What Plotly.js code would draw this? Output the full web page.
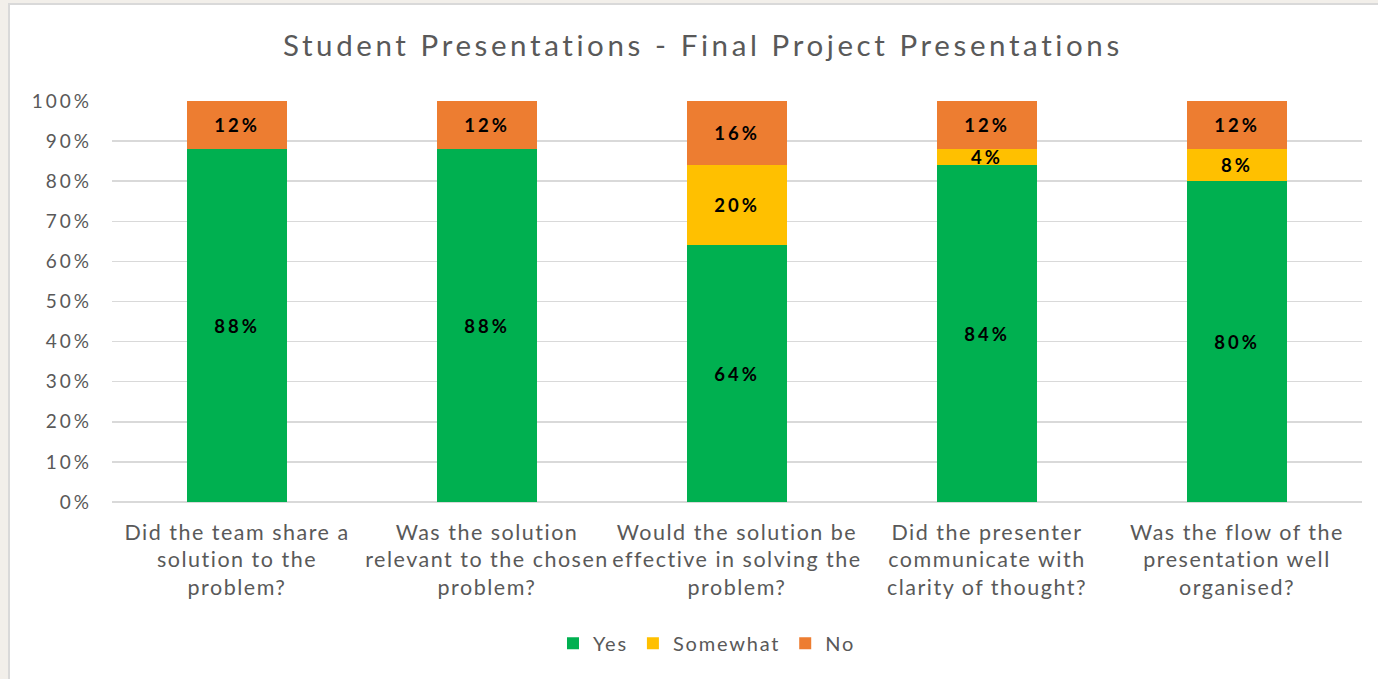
<!DOCTYPE html>
<html>
<head>
<meta charset="utf-8">
<script src="https://cdn.plot.ly/plotly-3.0.1.min.js"></script>
<style>
  html, body { margin: 0; padding: 0; background: #f2efea; width: 1378px; height: 679px; overflow: hidden; }
  #chart { position: absolute; left: 8px; top: 3px; width: 1370px; height: 676px; border-left: 2px solid #d9d9d9; border-top: 2px solid #d9d9d9; background: #ffffff; box-sizing: border-box; }
  .gtitle { letter-spacing: 3.6px; }
  .ytick text { letter-spacing: 3px; }
  .xtick text { letter-spacing: 1.5px; }
  .legendtext { letter-spacing: 1.8px; }
  .bartext { letter-spacing: 3px; }
</style>
</head>
<body>
<div id="chart"></div>
<script>
const categories = [
  "Did the team share a<br>solution to the<br>problem?",
  "Was the solution<br>relevant to the chosen<br>problem?",
  "Would the solution be<br>effective in solving the<br>problem?",
  "Did the presenter<br>communicate with<br>clarity of thought?",
  "Was the flow of the<br>presentation well<br>organised?"
];
const yesValues = [88, 88, 64, 84, 80];
const somewhatValues = [0, 0, 20, 4, 8];
const noValues = [12, 12, 16, 12, 12];
const tickVals = [0, 10, 20, 30, 40, 50, 60, 70, 80, 90, 100];
const tickText = ["0%", "10%", "20%", "30%", "40%", "50%", "60%", "70%", "80%", "90%", "100%"];

function labels(arr) { return arr.map(v => v > 0 ? v + "%" : ""); }

const common = {
  type: "bar",
  x: categories,
  textposition: "inside",
  insidetextanchor: "middle",
  textangle: 0,
  textfont: { family: "Lato, sans-serif", size: 18.5, color: "#000000", weight: "bold" },
  hoverinfo: "skip",
  cliponaxis: false
};

const traces = [
  Object.assign({}, common, { name: "Yes", y: yesValues, text: labels(yesValues), marker: { color: "#00b050" } }),
  Object.assign({}, common, { name: "Somewhat", y: somewhatValues, text: labels(somewhatValues), marker: { color: "#ffc000" } }),
  Object.assign({}, common, { name: "No", y: noValues, text: labels(noValues), marker: { color: "#ed7d31" } })
];

const layout = {
  width: 1368,
  height: 674,
  barmode: "stack",
  bargap: 0.6,
  paper_bgcolor: "#ffffff",
  plot_bgcolor: "#ffffff",
  font: { family: "Lato, sans-serif", color: "#595959" },
  margin: { l: 102, r: 16, t: 96, b: 177 },
  title: {
    text: "Student Presentations - Final Project Presentations",
    font: { family: "Lato, sans-serif", size: 29.5, color: "#595959" },
    x: 0.5065, xref: "container", xanchor: "center",
    y: 0.94, yref: "container", yanchor: "middle"
  },
  xaxis: {
    tickfont: { size: 21.5, color: "#595959" },
    showgrid: false,
    showline: false,
    ticks: "",
    ticklabelstandoff: 15,
    fixedrange: true
  },
  yaxis: {
    range: [0, 100],
    tickvals: tickVals,
    ticktext: tickText,
    tickfont: { size: 19, color: "#595959" },
    showgrid: true,
    gridcolor: "#d9d9d9",
    gridwidth: 1.5,
    zeroline: true,
    zerolinecolor: "#d9d9d9",
    zerolinewidth: 1.5,
    ticks: "",
    ticklabelstandoff: 19,
    fixedrange: true
  },
  uniformtext: { mode: "show", minsize: 18.5 },
  showlegend: true,
  legend: {
    orientation: "h",
    xref: "container", x: 0.5095, xanchor: "center",
    yref: "container", y: 0.053, yanchor: "middle",
    font: { size: 20, color: "#595959" },
    itemwidth: 30,
    traceorder: "normal"
  }
};

Plotly.newPlot("chart", traces, layout, { displayModeBar: false, staticPlot: true });
</script>
</body>
</html>
